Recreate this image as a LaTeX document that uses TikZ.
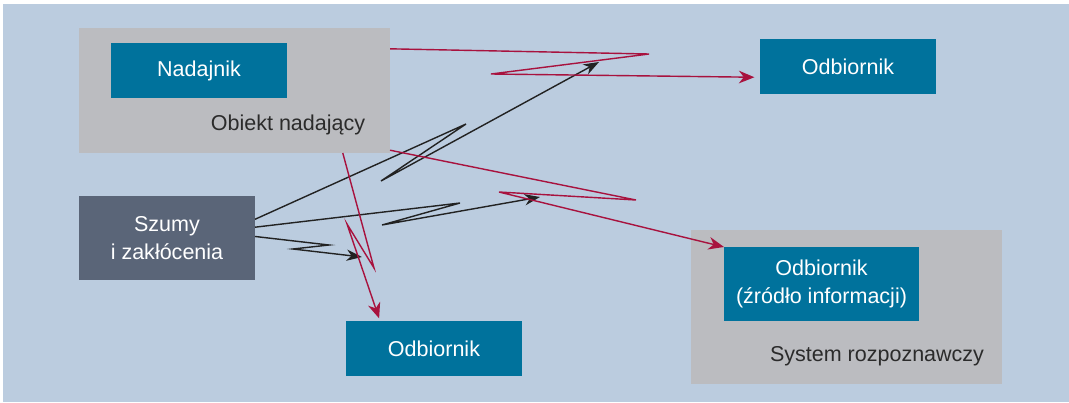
\documentclass[tikz,border=0pt]{standalone}
\usepackage{fontspec}
\setmainfont{Liberation Sans}
\usetikzlibrary{arrows.meta}
\definecolor{tlo}{HTML}{BBCCDF}
\definecolor{szary}{HTML}{BBBCC0}
\definecolor{morski}{HTML}{00729C}
\definecolor{grafit}{HTML}{5A6578}
\definecolor{bordo}{HTML}{A8123E}
\definecolor{czarny}{HTML}{222222}
\definecolor{napis}{HTML}{2B2B2B}

\begin{document}
\begin{tikzpicture}[x=0.025cm, y=-0.025cm,
  every node/.style={inner sep=0pt, outer sep=0pt, font=\fontsize{15.3}{19.5}\selectfont},
  pole/.style={fill=szary, minimum width=7.775cm},
  blok/.style={fill=morski, text=white, minimum width=4.4cm, minimum height=1.375cm, align=center},
  sygnal/.style={draw=bordo, line width=1pt, -{Stealth[length=11pt,width=9pt,inset=3.5pt]}},
  szum/.style={draw=czarny, line width=1pt, -{Stealth[length=11pt,width=8pt,inset=3.5pt]}}]
	  \useasboundingbox (0,0) rectangle (1069,402);
	  \fill[white] (0,0) rectangle (1069,402);
	  \fill[tlo] (3,4) rectangle (1069,402);
	  % grey fields
	  \node[pole, minimum height=3.125cm] (obiekt) at (234.5,90.5) {};
	  \node[pole, minimum height=3.85cm] (system) at (846.5,307) {};
	  \node[text=napis] (obiektlbl) at (288,125) {Obiekt nadający};
	  \node[text=napis] (systemlbl) at (877,356) {System rozpoznawczy};
	  % boxes
	  \node[blok] (nadajnik) at (199,70.5) {Nadajnik};
	  \node[blok] (odbA) at (848,66.5) {Odbiornik};
	  \node[blok] (odbB) at (434,348.5) {Odbiornik};
	  \node[blok, minimum width=4.875cm, minimum height=1.85cm] (odbC) at (821.5,284) {Odbiornik\\(źródło informacji)};
	  \node[blok, fill=grafit, minimum height=2.1cm] (szumy) at (167,238) {Szumy\\i zakłócenia};
	  % noise ends
	  \coordinate (zakA) at (599,62);
	  \coordinate (zakB) at (540,197);
	  \coordinate (zakC) at (362,257);
	  % noise
	  \draw[szum] (szumy.12.8) -- (466,124) -- (381,181) -- (zakA);
	  \draw[szum] (szumy.7.1) -- (460,203) -- (382,225) -- (zakB);
	  \draw[szum] (szumy.1.3) -- (329,245) -- (293,249) -- (zakC);
	  % signal
	  \draw[sygnal, shorten >=4] (obiekt.15.6) -- (649,54) -- (491,74) -- (odbA.-173.8);
	  \draw[sygnal] (obiekt.-21) -- (636,200) -- (499,192) -- (odbC.north west);
	  \draw[sygnal, shorten >=2] (obiekt.-30.9) -- (374,268) -- (347,224) -- (odbB.153.8);
	\end{tikzpicture}
\end{document}
